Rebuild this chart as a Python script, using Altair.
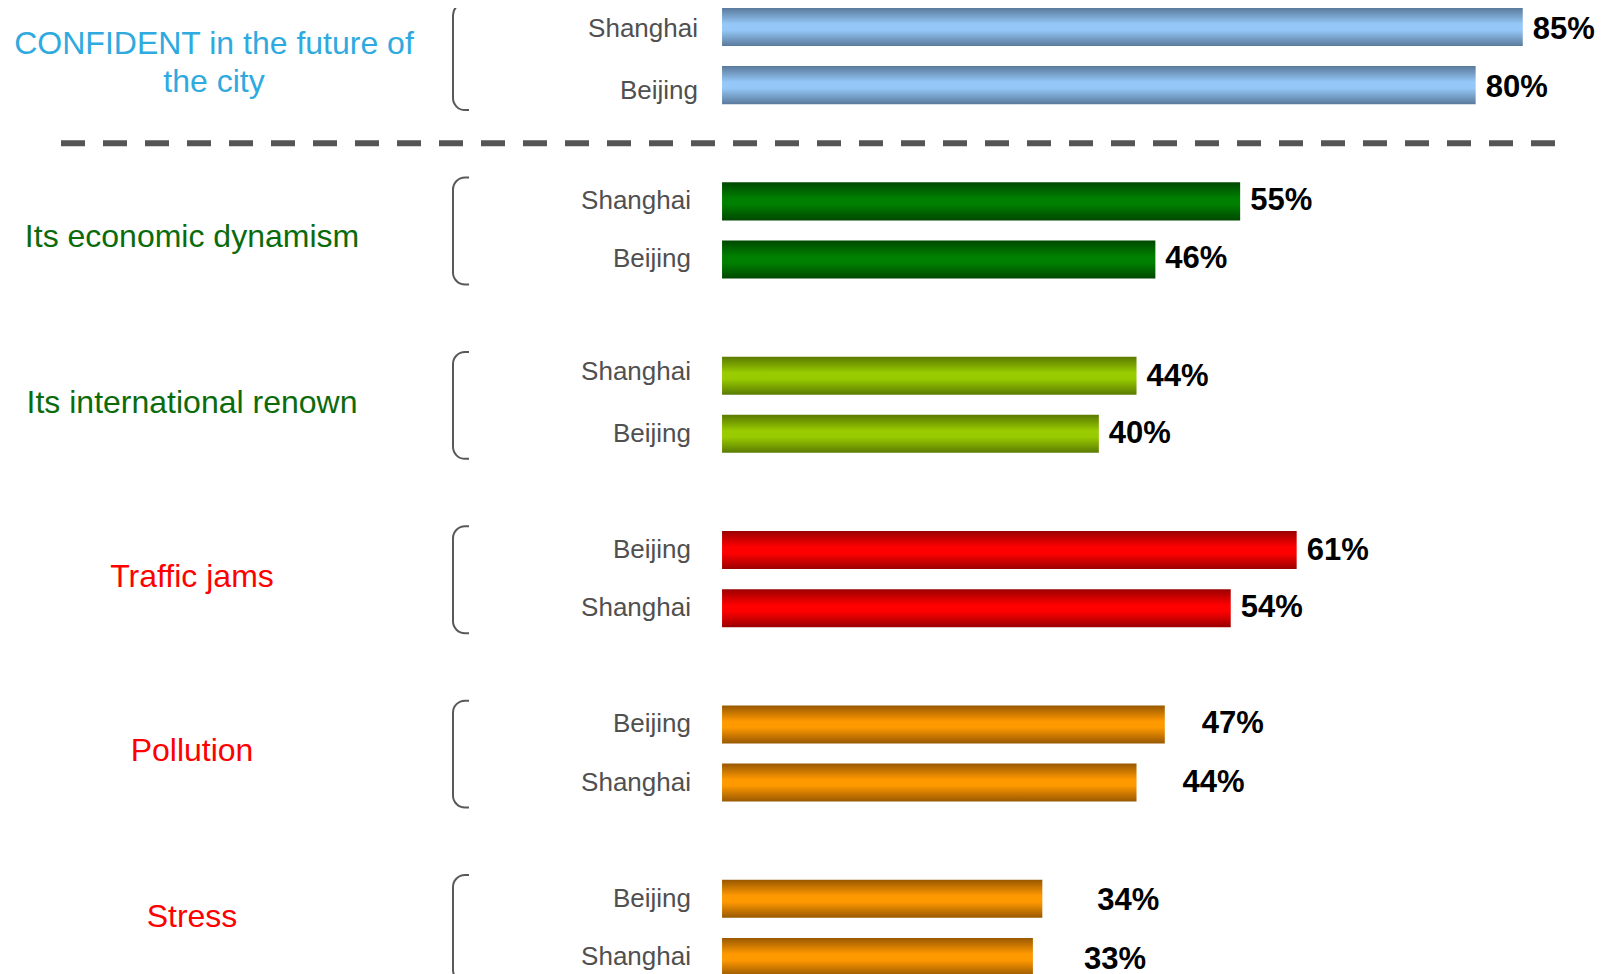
import altair as alt
import pandas as pd

# ---------------- data ----------------
group_keys = ["confident", "economic", "international", "traffic", "pollution", "stress"]
group_text = [
    ["CONFIDENT in the future of", "the city"],
    ["Its economic dynamism"],
    ["Its international renown"],
    ["Traffic jams"],
    ["Pollution"],
    ["Stress"],
]
cities = [
    ["Shanghai", "Beijing"],
    ["Shanghai", "Beijing"],
    ["Shanghai", "Beijing"],
    ["Beijing", "Shanghai"],
    ["Beijing", "Shanghai"],
    ["Beijing", "Shanghai"],
]
values = [
    [85, 80],
    [55, 46],
    [44, 40],
    [61, 54],
    [47, 44],
    [34, 33],
]

# ---------------- styles ----------------
label_colors = ["#2eaadf", "#0b6b0b", "#0b6b0b", "#ff0000", "#ff0000", "#ff0000"]
bar_edge = ["#5a7a9c", "#004800", "#5a7a00", "#9a0000", "#985800", "#985800"]
bar_mid = ["#95c8f8", "#008000", "#99cc00", "#ff0000", "#ff9900", "#ff9900"]
group_label_x = [206, 184, 184, 184, 184, 184]
group_label_dy = [-12, 7, -2, -2, -3, -11]
city_label_x = [690, 683, 683, 683, 683, 683]
city_dy = {(0, 0): 2, (0, 1): 6, (2, 0): -4}
value_dx = {(4, 0): 37, (4, 1): 46, (5, 0): 55, (5, 1): 51}
value_dy = {(0, 0): 3, (0, 1): 3, (2, 0): 1, (3, 0): 1, (5, 0): 2, (5, 1): 3}

FONT = "Liberation Sans"
W, H = 1592, 966
XS = alt.Scale(domain=[-75.8, 93.2], nice=False, zero=False)
YS = alt.Scale(domain=[-0.327, 16.293], reverse=True, nice=False, zero=False)


def grad(edge, mid):
    return alt.Gradient(
        gradient="linear", x1=0, y1=0, x2=0, y2=1,
        stops=[
            alt.GradientStop(color=edge, offset=0),
            alt.GradientStop(color=mid, offset=0.42),
            alt.GradientStop(color=mid, offset=0.58),
            alt.GradientStop(color=edge, offset=1),
        ],
    )


layers = []

# dashed separator
sep = pd.DataFrame({"s": [2.0]})
layers.append(
    alt.Chart(sep).mark_rule(strokeDash=[24, 18], strokeWidth=6, color="#555555").encode(
        x=alt.value(53), x2=alt.value(1547), y=alt.Y("s:Q", scale=YS, axis=None)
    )
)

for gi, key in enumerate(group_keys):
    first = 3 * gi
    gdf = pd.DataFrame({
        "city": cities[gi],
        "value": values[gi],
        "slot": [first, first + 1],
        "row": [0, 1],
    })
    gdf["lbl"] = [f"{v}%" for v in values[gi]]
    head = pd.DataFrame({"slot": [first], "center": [first + 0.5]})

    # bracket
    layers.append(
        alt.Chart(head).transform_calculate(b0="datum.slot - 0.41", b1="datum.slot + 1.43")
        .mark_rect(cornerRadius=12, fill="transparent", stroke="#595959", strokeWidth=2)
        .encode(x=alt.value(445), x2=alt.value(500),
                y=alt.Y("b0:Q", scale=YS, axis=None), y2="b1:Q")
    )
    layers.append(
        alt.Chart(head).transform_calculate(c0="datum.slot - 0.5", c1="datum.slot + 1.5")
        .mark_rect(fill="white")
        .encode(x=alt.value(461), x2=alt.value(510),
                y=alt.Y("c0:Q", scale=YS, axis=None), y2="c1:Q")
    )

    # bars
    layers.append(
        alt.Chart(gdf).transform_calculate(zero="0", y0="datum.slot - 0.327", y1="datum.slot + 0.327")
        .mark_rect(fill=grad(bar_edge[gi], bar_mid[gi]), clip=True)
        .encode(x=alt.X("zero:Q", scale=XS, axis=None), x2="value:Q",
                y=alt.Y("y0:Q", scale=YS, axis=None), y2="y1:Q")
    )

    for r in range(2):
        # city label
        layers.append(
            alt.Chart(gdf).transform_filter(alt.datum.row == r)
            .mark_text(align="right", baseline="middle", font=FONT, fontSize=26, color="#505050",
                       dy=city_dy.get((gi, r), 0))
            .encode(x=alt.value(city_label_x[gi]), y=alt.Y("slot:Q", scale=YS, axis=None), text="city:N")
        )
        # value label
        layers.append(
            alt.Chart(gdf).transform_filter(alt.datum.row == r)
            .mark_text(align="left", baseline="middle", font=FONT, fontSize=31, fontWeight="bold",
                       color="#000000", dx=value_dx.get((gi, r), 10), dy=value_dy.get((gi, r), 0))
            .encode(x=alt.X("value:Q", scale=XS, axis=None), y=alt.Y("slot:Q", scale=YS, axis=None),
                    text="lbl:N")
        )

    # group label
    txt = group_text[gi] if len(group_text[gi]) > 1 else group_text[gi][0]
    layers.append(
        alt.Chart(head).mark_text(text=txt, align="center", baseline="middle", font=FONT, fontSize=32,
                                  color=label_colors[gi], lineHeight=38, dy=group_label_dy[gi])
        .encode(x=alt.value(group_label_x[gi]), y=alt.Y("center:Q", scale=YS, axis=None))
    )

chart = (
    alt.layer(*layers)
    .properties(width=W, height=H, padding=0, background="white",
                autosize=alt.AutoSizeParams(type="none"))
    .configure_view(stroke=None)
)

chart.save("out.html", embed_options={"renderer": "svg", "actions": False})
